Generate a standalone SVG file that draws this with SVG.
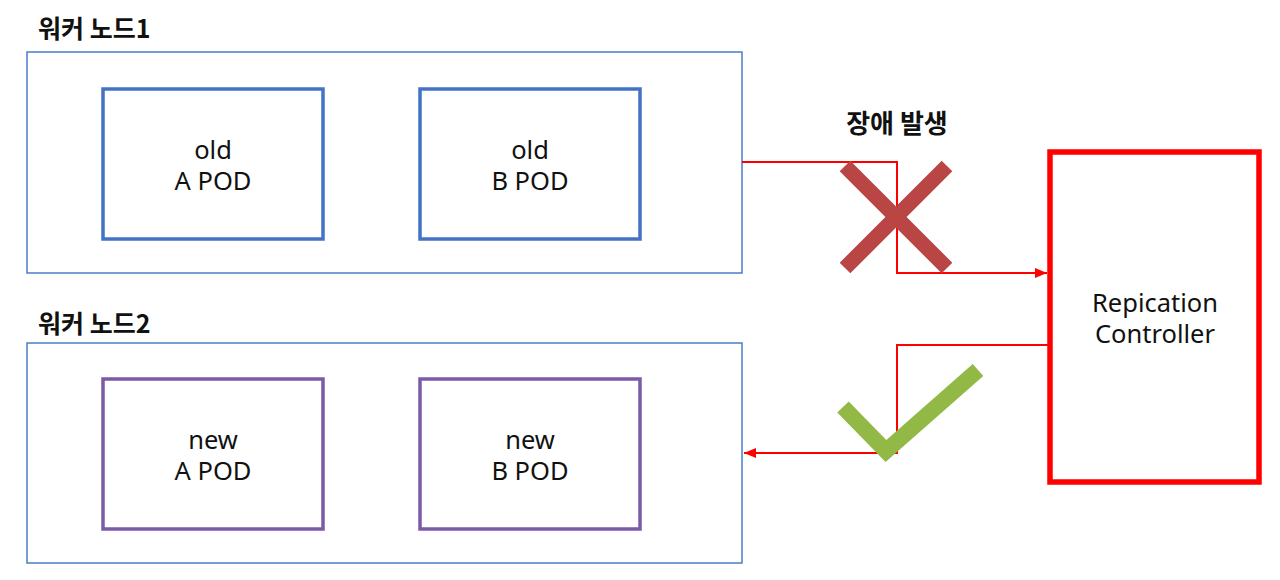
<svg xmlns="http://www.w3.org/2000/svg" width="1280" height="580" viewBox="0 0 1280 580">
<defs>
<style>
.node{fill:#fff;stroke:#4a7cc8;stroke-width:1.5}
.podb{fill:#fff;stroke:#4472c4;stroke-width:3.5}
.podp{fill:#fff;stroke:#7b5aa6;stroke-width:3.5}
.t{font-family:"Noto Sans","Noto Sans CJK KR",sans-serif;font-size:25.5px;fill:#111;text-anchor:middle}
.h{font-family:"Noto Sans CJK KR","Noto Sans",sans-serif;font-size:25px;font-weight:bold;fill:#111}
.conn{fill:none;stroke:#ff0000;stroke-width:2}
</style>
<marker id="arr2" viewBox="0 0 12 10" refX="12" refY="5" markerWidth="12" markerHeight="10" orient="auto" markerUnits="userSpaceOnUse">
<path d="M0,0 L12,5 L0,10 z" fill="#ff0000"/>
</marker>
</defs>
<rect width="1280" height="580" fill="#fff"/>
<g id="worker1">
<text class="h" x="38" y="38">워커 노드1</text>
<rect class="node" x="27" y="52" width="715" height="221"/>
</g>
<g id="oldA">
<rect class="podb" x="103" y="89" width="220" height="150"/>
<text class="t" x="213" y="159">old</text>
<text class="t" x="213" y="190">A POD</text>
</g>
<g id="oldB">
<rect class="podb" x="420" y="89" width="220" height="150"/>
<text class="t" x="530" y="159">old</text>
<text class="t" x="530" y="190">B POD</text>
</g>
<g id="worker2">
<text class="h" x="38" y="333">워커 노드2</text>
<rect class="node" x="27" y="343" width="715" height="220"/>
</g>
<g id="newA">
<rect class="podp" x="103" y="379" width="220" height="150"/>
<text class="t" x="213" y="449">new</text>
<text class="t" x="213" y="480">A POD</text>
</g>
<g id="newB">
<rect class="podp" x="420" y="379" width="220" height="150"/>
<text class="t" x="530" y="449">new</text>
<text class="t" x="530" y="480">B POD</text>
</g>
<g id="controller">
<rect x="1050" y="152" width="209" height="330" fill="#fff" stroke="#ff0000" stroke-width="5.5"/>
<text class="t" x="1155" y="312">Repication</text>
<text class="t" x="1155" y="343">Controller</text>
</g>
<g id="connectors">
<polyline class="conn" points="742,162 897,162 897,273 1047,273" marker-end="url(#arr2)"/>
<polyline class="conn" points="1049,345 897,345 897,453 744,453" marker-end="url(#arr2)"/>
</g>
<g id="failure">
<text class="h" x="897" y="133" text-anchor="middle" style="font-size:26px">장애 발생</text>
<path d="M845,166 L947,268 M947,166 L845,268" stroke="#b94545" stroke-width="15" fill="none"/>
</g>
<g id="success">
<polyline points="843,407 886,451 978,370" stroke="#92b946" stroke-width="16" fill="none"/>
</g>
</svg>
